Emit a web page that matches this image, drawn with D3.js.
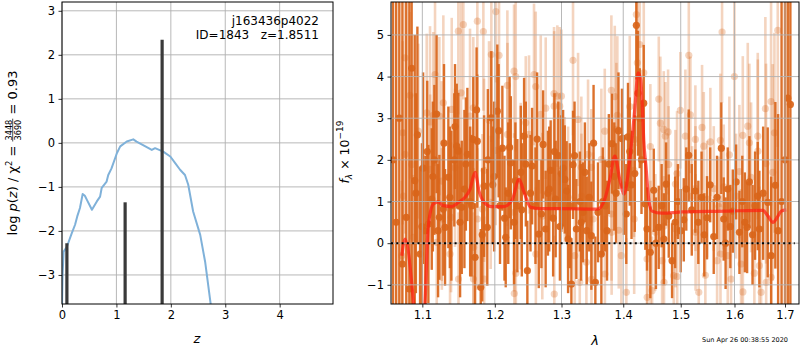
<!DOCTYPE html>
<html lang="en">
<head>
<meta charset="UTF-8">
<script src="https://cdnjs.cloudflare.com/ajax/libs/d3/7.8.5/d3.min.js"></script>
<style>
    body { margin: 0; background: #fff; }
    svg text { font-family: "DejaVu Sans", sans-serif; fill: #000; white-space: pre; }
</style>
</head>
<body>
<svg id="chart" width="800" height="350"></svg>
<script>
    // ---- p(z) panel
    var pzZ = [0.00, 0.01, 0.03, 0.09, 0.18, 0.24, 0.28, 0.33, 0.38, 0.42, 0.46, 0.55, 0.64, 0.70, 0.73, 0.82, 0.85, 0.91,
        1.01, 1.07, 1.19, 1.31, 1.37, 1.49, 1.65, 1.71, 1.86, 1.99, 2.08, 2.17, 2.26, 2.32, 2.41, 2.54, 2.63, 2.73, 2.78];
    var pzLog = [-3.7, -3.0, -2.47, -2.36, -2.05, -1.86, -1.67, -1.48, -1.16, -1.2, -1.3, -1.52, -1.33, -1.22, -1.02, -0.88, -0.73, -0.58,
        -0.23, -0.08, 0.03, 0.08, 0.03, -0.05, -0.16, -0.12, -0.2, -0.31, -0.46, -0.61, -0.73, -0.95, -1.56, -2.09, -2.70, -3.64, -4.2];
    var peakZ = [0.09, 1.16, 1.84];
    var peakLog = [-2.28, -1.35, 2.34];
    var zTicks = [0, 1, 2, 3, 4];
    var pzTicks = [-3, -2, -1, 0, 1, 2, 3];

    // ---- spectrum panel (flux in 1e-19)
    var darkWave = [1.062, 1.066, 1.070, 1.074, 1.079, 1.083, 1.086, 1.090, 1.0935, 1.097,
        1.101, 1.104, 1.108, 1.1125, 1.116, 1.119, 1.1227, 1.1281, 1.1304, 1.1349,
        1.139, 1.143, 1.1464, 1.1486, 1.1533, 1.157, 1.1611, 1.165, 1.1694, 1.1719,
        1.175, 1.1799, 1.1846, 1.1892, 1.1949, 1.199, 1.2036, 1.2075, 1.2109, 1.2158,
        1.2195, 1.2232, 1.228, 1.2329, 1.238, 1.2429, 1.2478, 1.2549, 1.26, 1.265,
        1.2716, 1.2755, 1.279, 1.2832, 1.287, 1.2909, 1.295, 1.2997, 1.3051, 1.308,
        1.3103, 1.3155, 1.3181, 1.3234, 1.329, 1.334, 1.34, 1.3474, 1.3539, 1.3582,
        1.3637, 1.37, 1.376, 1.3812, 1.388, 1.3979, 1.4051, 1.408, 1.414, 1.4195,
        1.4222, 1.428, 1.4348, 1.4376, 1.4405, 1.4462, 1.4522, 1.456, 1.4609, 1.466,
        1.47, 1.4739, 1.4786, 1.4845, 1.49, 1.495, 1.5, 1.5055, 1.51, 1.5145,
        1.52, 1.5265, 1.532, 1.538, 1.543, 1.5481, 1.554, 1.5606, 1.5668, 1.5749,
        1.5794, 1.583, 1.5871, 1.592, 1.5967, 1.6031, 1.6095, 1.615, 1.62, 1.6244,
        1.6289, 1.635, 1.64, 1.6453, 1.6485, 1.656, 1.6651, 1.672, 1.6804, 1.686,
        1.693, 1.7, 1.7057, 1.711];
    var darkFlux = [2.0, 0.5, 3.0, -0.5, 0.62, -1.1, 4.2, 1.5, 2.6, -0.26,
        1.8, 0.3, 0.46, 1.06, 2.0, 3.1, 0.62, 0.82, 0.38, 1.58,
        0.9, 2.0, 2.33, 2.21, 0.86, 1.3, 2.13, 1.0, 2.49, -0.34,
        2.45, -1.06, 1.37, 0.38, 3.01, 1.6, 3.17, 0.9, 2.28, 0.14,
        1.2, 1.93, 0.5, 0.9, 1.7, 2.57, -0.66, 1.85, 0.9, 0.22,
        2.37, 0.34, 1.2, 1.75, 0.6, 1.06, 2.1, 1.67, 1.53, 1.25,
        0.1, -0.98, 1.88, 0.34, 1.0, 0.74, 0.3, 0.18, -0.94, 0.74,
        -0.26, 0.9, 1.9, 2.39, 1.2, 2.51, 0.7, 2.55, 1.4, 1.67,
        5.23, 3.0, 3.36, 0.94, 0.34, -0.22, 1.27, 0.0, 0.38, 0.9,
        0.1, 1.42, 0.65, -0.42, 0.5, 1.0, 0.3, 0.56, 1.3, 2.11,
        0.8, 1.25, 0.5, 1.1, 0.2, 0.61, 1.4, 0.16, 1.1, 2.28,
        0.58, 0.0, 1.3, 0.4, 0.77, 1.47, 0.26, 1.0, 0.5, 0.38,
        1.47, 0.2, 0.9, 1.13, 0.34, 1.2, 0.98, -0.3, 1.39, 0.3,
        1.0, 2.0, 3.48, 3.33];
    var darkErr = [9, 9, 9, 9, 7, 8, 6, 3.5, 2.6, 2.1,
        2.3, 1.8, 1.9, 1.7, 1.8, 1.9, 1.5, 1.6, 1.4, 1.7,
        1.8, 1.6, 1.5, 1.4, 1.6, 1.9, 1.6, 1.8, 1.5, 1.3,
        1.6, 1.4, 1.7, 1.4, 1.6, 1.8, 1.6, 1.4, 1.5, 1.2,
        1.7, 1.6, 1.5, 1.6, 1.6, 1.4, 1.2, 1.4, 1.4, 1.3,
        1.3, 1.4, 1.5, 1.2, 1.4, 1.4, 1.3, 1.4, 1.3, 1.2,
        1.3, 1.1, 1.3, 1.2, 1.2, 1.2, 1.3, 1.3, 1.1, 1.2,
        1.2, 1.1, 1.2, 1.2, 1.2, 1.2, 1.2, 1.3, 1.3, 1.4,
        1.3, 1.2, 1.4, 1.1, 1.0, 1.1, 1.0, 1.1, 1.0, 1.0,
        1.1, 1.0, 1.0, 0.9, 1.1, 0.9, 1.0, 1.0, 1.0, 1.1,
        1.1, 1.0, 1.0, 1.1, 1.0, 1.0, 0.9, 0.9, 1.0, 1.1,
        1.0, 1.1, 1.0, 1.0, 1.0, 0.9, 1.0, 1.1, 1.2, 1.1,
        1.1, 1.2, 1.3, 1.3, 1.4, 1.6, 1.8, 1.9, 2.0, 2.8,
        5, 9, 9, 9];

    // second exposure, blue half only
    var darkWaveB = [1.0915, 1.0995, 1.1065, 1.1140, 1.1210, 1.1290, 1.1370, 1.1440, 1.1510, 1.1590,
        1.1670, 1.1740, 1.1820, 1.1900, 1.1970, 1.2055, 1.2140, 1.2215, 1.2300, 1.2395,
        1.2455, 1.2525, 1.2625, 1.2690, 1.2810, 1.2890, 1.2975, 1.3025, 1.3130, 1.3205,
        1.3310, 1.3370, 1.3440, 1.3510, 1.3660, 1.3730, 1.3850, 1.3920, 1.4010, 1.4110,
        1.4250, 1.4310];
    var darkFluxB = [1.2, 0.4, 2.2, 1.6, 0.3, 2.4, 1.1, 2.8, 0.5, 1.9,
        0.9, 3.2, 0.2, 2.0, 1.4, 2.7, 0.6, 2.3, 1.5, 0.8,
        1.9, 1.2, 2.5, 0.7, 1.3, 2.2, 0.4, 1.8, 0.9, 2.1,
        0.5, 1.7, 1.1, 2.4, 1.0, 0.3, 1.6, 2.7, 1.4, 2.2,
        3.6, 2.0];
    var darkErrB = [2.4, 2.0, 1.7, 1.8, 1.6, 1.9, 1.7, 1.5, 1.8, 1.6,
        1.7, 1.5, 1.6, 1.7, 1.4, 1.6, 1.5, 1.7, 1.4, 1.6,
        1.5, 1.4, 1.6, 1.3, 1.5, 1.4, 1.3, 1.4, 1.5, 1.3,
        1.4, 1.2, 1.3, 1.4, 1.3, 1.2, 1.3, 1.4, 1.2, 1.3,
        1.5, 1.3];

    var lightWave = [1.0731, 1.0744, 1.0752, 1.0774, 1.0776, 1.0839, 1.0861, 1.0882, 1.0947, 1.1058,
        1.1102, 1.1104, 1.1146, 1.1169, 1.1192, 1.1227, 1.1259, 1.1261, 1.1281, 1.1372,
        1.1386, 1.1395, 1.1440, 1.1486, 1.1488, 1.1523, 1.1555, 1.1648, 1.1694, 1.1696,
        1.1698, 1.1751, 1.1753, 1.1822, 1.1836, 1.1846, 1.1848, 1.1917, 1.1941, 1.1950,
        1.2013, 1.2015, 1.2061, 1.2182, 1.2184, 1.2280, 1.2282, 1.2284, 1.2305, 1.2307,
        1.2379, 1.2454, 1.2503, 1.2578, 1.2604, 1.2606, 1.2680, 1.2704, 1.2756, 1.2884,
        1.2886, 1.2888, 1.2935, 1.2973, 1.2998, 1.3051, 1.3103, 1.3181, 1.3208, 1.3261,
        1.3288, 1.3313, 1.3315, 1.3394, 1.3421, 1.3474, 1.3476, 1.3502, 1.3637, 1.3693,
        1.3695, 1.3802, 1.3804, 1.3806, 1.3858, 1.3885, 1.3901, 1.3925, 1.3968, 1.4052,
        1.4110, 1.4183, 1.4185, 1.4187, 1.4222, 1.4239, 1.4280, 1.4349, 1.4406, 1.4408,
        1.4463, 1.4465, 1.4493, 1.4550, 1.4610, 1.4638, 1.4668, 1.4698, 1.4700, 1.4702,
        1.4726, 1.4774, 1.4784, 1.4875, 1.4904, 1.4906, 1.4934, 1.4936, 1.4993, 1.5084,
        1.5146, 1.5175, 1.5206, 1.5266, 1.5268, 1.5270, 1.5328, 1.5389, 1.5421, 1.5450,
        1.5482, 1.5543, 1.5607, 1.5669, 1.5701, 1.5731, 1.5733, 1.5763, 1.5795, 1.5871,
        1.5902, 1.5934, 1.5998, 1.6030, 1.6094, 1.6127, 1.6160, 1.6162, 1.6257, 1.6288,
        1.6322, 1.6386, 1.6453, 1.6455, 1.6485, 1.6519, 1.6604, 1.6618, 1.6620, 1.6718,
        1.6720, 1.6752, 1.6785, 1.6853];
    var lightFlux = [-0.3, 2.65, 1.13, 4.45, 2.13, 3.55, 1.89, 0.14, 2.69, 3.13,
        2.91, 1.77, 3.07, 4.05, 0.02, 3.05, 1.49, 0.58, 3.37, -0.26,
        0.62, 3.21, 1.81, 5.09, -0.86, 3.61, 5.25, 3.05, 3.25, -0.86,
        -0.1, 5.33, 0.58, 0.82, 5.08, 1.75, -0.86, 2.95, 0.98, 4.53,
        2.23, 5.56, 4.51, 3.79, 2.61, 4.13, 0.74, -1.21, 4.0, -0.72,
        1.37, 2.89, 2.61, 4.05, 3.76, -0.26, 3.09, 0.65, 3.24, 3.59,
        3.29, -1.22, 3.53, 3.29, 3.53, 1.53, 1.1, 4.39, -0.3, 2.97,
        -0.94, 1.82, 1.13, -0.46, 2.13, 1.82, -0.87, 0.58, 2.01, 2.69,
        -0.74, 3.67, 0.70, 0.26, 3.52, 2.73, 3.07, 0.31, -0.3, -1.18,
        3.28, 1.75, 0.58, 2.49, 5.49, 4.33, 4.77, 4.09, -0.38, -1.30,
        2.32, -0.1, -1.14, 0.26, 3.46, 2.88, -0.42, 2.73, 0.41, -0.94,
        2.57, 2.67, 1.89, -0.78, 1.42, 0.34, 1.67, -0.8, 3.19, 2.57,
        4.51, 3.08, 1.13, 2.49, 1.31, 0.26, -1.18, 2.78, 2.33, -0.77,
        1.06, 2.43, 1.31, -0.42, 0.88, 2.47, -0.26, 5.07, 1.35, -0.3,
        2.12, -0.86, 4.0, 1.13, 1.72, -0.5, 2.59, -1.17, 2.81, 2.41,
        1.58, -0.72, 2.57, 2.21, -0.54, -1.18, 3.23, 1.91, -0.94, 3.4,
        -0.82, 1.7, 2.65, 5.11];
    var lightErr = [1.8, 2.2, 1.6, 2.4, 1.9, 2.0, 1.7, 1.5, 2.1, 1.9,
        2.3, 1.8, 2.0, 2.2, 1.6, 1.9, 2.4, 1.7, 2.1, 1.5,
        1.8, 2.2, 1.9, 2.0, 1.6, 2.3, 1.8, 2.1, 1.7, 1.6,
        1.9, 2.0, 1.7, 1.8, 1.9, 2.2, 1.5, 1.9, 1.6, 2.1,
        1.8, 1.7, 2.0, 1.8, 2.2, 1.6, 1.9, 1.5, 1.8, 1.7,
        2.0, 1.6, 1.9, 1.7, 1.8, 1.6, 1.9, 2.0, 1.7, 1.6,
        1.8, 1.4, 1.7, 1.9, 1.6, 1.5, 1.7, 1.8, 1.4, 1.6,
        1.3, 1.7, 1.5, 1.6, 1.8, 1.4, 1.5, 1.6, 1.7, 1.5,
        1.4, 1.8, 1.6, 1.5, 1.7, 1.6, 1.9, 1.4, 1.5, 1.3,
        1.7, 1.6, 1.8, 1.5, 1.9, 2.0, 1.8, 1.7, 1.4, 1.3,
        1.5, 1.6, 1.3, 1.4, 1.5, 1.6, 1.3, 1.4, 1.2, 1.5,
        1.3, 1.5, 1.4, 1.2, 1.3, 1.4, 1.5, 1.2, 1.4, 1.6,
        1.5, 1.4, 1.2, 1.3, 1.5, 1.4, 1.2, 1.5, 1.3, 1.3,
        1.4, 1.3, 1.5, 1.4, 1.2, 1.6, 1.4, 1.7, 1.5, 1.6,
        1.4, 1.7, 1.8, 1.5, 1.6, 1.8, 1.9, 1.7, 2.0, 1.9,
        1.8, 2.1, 2.0, 2.2, 1.9, 2.3, 2.2, 2.4, 2.1, 2.5,
        2.3, 2.6, 2.4, 2.8];

    var modelWave = [1.0732, 1.0774, 1.0882, 1.0950, 1.1036, 1.1079, 1.1146, 1.1213, 1.1281, 1.1395,
        1.1486, 1.1579, 1.1649, 1.1719, 1.1775, 1.1846, 1.1941, 1.2134, 1.2255, 1.2354,
        1.2429, 1.2528, 1.2679, 1.2962, 1.3582, 1.3693, 1.3776, 1.3859, 1.3942, 1.4013,
        1.4110, 1.4195, 1.4251, 1.4297, 1.4327, 1.4348, 1.4387, 1.4434, 1.4490, 1.4666,
        1.5025, 1.5858, 1.6554, 1.6656, 1.6756, 1.6857, 1.6923, 1.7025];
    var modelFlux = [-0.30, 0.10, -1.38, -3.00, -1.40, 0.41, 0.94, 0.99, 0.90, 0.88,
        0.98, 1.10, 1.30, 1.70, 1.25, 0.98, 0.88, 0.88, 1.05, 1.53,
        1.22, 0.86, 0.83, 0.83, 0.82, 1.06, 1.53, 2.09, 1.53, 1.18,
        2.01, 3.21, 4.09, 3.93, 3.20, 2.49, 1.85, 1.06, 0.77, 0.72,
        0.75, 0.77, 0.79, 0.65, 0.50, 0.65, 0.77, 0.80];
    var waveTicks = [1.1, 1.2, 1.3, 1.4, 1.5, 1.6, 1.7];
    var fluxTicks = [-1, 0, 1, 2, 3, 4, 5];

    function rows(w, f, e) {
        return w.map(function (v, i) { return {w: v, f: f[i], e: e[i]}; });
    }
    var dark = rows(darkWave, darkFlux, darkErr).concat(rows(darkWaveB, darkFluxB, darkErrB));
    var light = rows(lightWave, lightFlux, lightErr);
    var model = modelWave.map(function (w, i) { return {w: w, f: modelFlux[i]}; });
    var pz = pzZ.map(function (z, i) { return {z: z, p: pzLog[i]}; });

    var svg = d3.select("#chart");
    var tickSize = 11.5;
    var minus = function (d) { return d3.format("")(d).replace("-", "\u2212"); };

    function axes(g, x, y, xt, yt, box) {
        var grid = g.append("g").attr("class", "grid");
        grid.selectAll(".gx").data(xt).enter().append("line")
            .attr("x1", function (d) { return x(d); }).attr("x2", function (d) { return x(d); })
            .attr("y1", box.y0).attr("y2", box.y1);
        grid.selectAll(".gy").data(yt).enter().append("line")
            .attr("y1", function (d) { return y(d); }).attr("y2", function (d) { return y(d); })
            .attr("x1", box.x0).attr("x2", box.x1);
        grid.selectAll("line").attr("stroke", "#b0b0b0").attr("stroke-width", 0.9);

        var xa = g.append("g").attr("transform", "translate(0," + box.y1 + ")")
            .call(d3.axisBottom(x).tickValues(xt).tickSize(3.5).tickPadding(3.5).tickFormat(minus));
        var ya = g.append("g").attr("transform", "translate(" + box.x0 + ",0)")
            .call(d3.axisLeft(y).tickValues(yt).tickSize(3.5).tickPadding(3.5).tickFormat(minus));
        [xa, ya].forEach(function (a) {
            a.select(".domain").remove();
            a.selectAll("line").attr("stroke", "#000").attr("stroke-width", 0.8);
            a.selectAll("text").attr("font-size", tickSize);
        });
        g.append("rect").attr("class", "frame").attr("x", box.x0).attr("y", box.y0)
            .attr("width", box.x1 - box.x0).attr("height", box.y1 - box.y0)
            .attr("fill", "none").attr("stroke", "#000").attr("stroke-width", 1);
    }

    // write a run of text pieces along the baseline, returns total length
    function runText(g, parts, size) {
        var x = 0;
        parts.forEach(function (p) {
            if (p.num) {
                var fs = size * 0.63;
                var n = g.append("text").attr("x", x + 1).attr("y", -size * 0.42).attr("font-size", fs).text(p.num);
                var d = g.append("text").attr("x", x + 1).attr("y", size * 0.29).attr("font-size", fs).text(p.den);
                var w = Math.max(n.node().getComputedTextLength(), d.node().getComputedTextLength()) + 2;
                g.append("line").attr("x1", x).attr("x2", x + w)
                    .attr("y1", -size * 0.33).attr("y2", -size * 0.33)
                    .attr("stroke", "#000").attr("stroke-width", 0.7);
                x += w;
            } else {
                var t = g.append("text").attr("x", x).attr("y", p.dy || 0)
                    .attr("font-size", p.size || size)
                    .attr("font-style", p.it ? "italic" : null)
                    .text(p.t);
                x += t.node().getComputedTextLength();
            }
        });
        return x;
    }

    // ---- left panel
    var L = {x0: 62, x1: 333, y0: 2, y1: 304};
    var xz = d3.scaleLinear().domain([0, 4.98]).range([L.x0, L.x1]);
    var yz = d3.scaleLinear().domain([-3.66, 3.2]).range([L.y1, L.y0]);
    var gl = svg.append("g");
    svg.append("clipPath").attr("id", "clipL").append("rect")
        .attr("x", L.x0).attr("y", L.y0).attr("width", L.x1 - L.x0).attr("height", L.y1 - L.y0);
    axes(gl, xz, yz, zTicks, pzTicks, L);
    var dl = gl.append("g").attr("clip-path", "url(#clipL)");
    dl.append("path").datum(pz)
        .attr("d", d3.line().x(function (d) { return xz(d.z); }).y(function (d) { return yz(d.p); }))
        .attr("fill", "none").attr("stroke", "#7fb1d9").attr("stroke-width", 2).attr("stroke-linejoin", "round");
    dl.selectAll(".peak").data(peakZ).enter().append("line")
        .attr("x1", function (d) { return xz(d); }).attr("x2", function (d) { return xz(d); })
        .attr("y1", L.y1).attr("y2", function (d, i) { return yz(peakLog[i]); })
        .attr("stroke", "#3a3a3a").attr("stroke-width", 3.2);
    gl.select(".frame").raise();

    gl.append("text").attr("x", 319).attr("y", 24.5).attr("text-anchor", "end").attr("font-size", 12)
        .text("j163436p4022");
    gl.append("text").attr("x", 319).attr("y", 39).attr("text-anchor", "end").attr("font-size", 12)
        .text("ID=1843   z=1.8511");
    gl.append("text").attr("x", 197).attr("y", 343).attr("text-anchor", "middle")
        .attr("font-size", 13).attr("font-style", "italic").text("z");

    var yl = svg.append("g");
    var ylen = runText(yl, [
        {t: "log "}, {t: "p", it: true}, {t: "("}, {t: "z", it: true}, {t: ") / \u03c7"},
        {t: "2", size: 8.5, dy: -5.5}, {t: " = "}, {num: "3448", den: "3690"}, {t: " = 0.93"}
    ], 13);
    yl.attr("transform", "translate(17," + (153 + ylen / 2) + ") rotate(-90)");

    // ---- right panel
    var R = {x0: 391, x1: 799, y0: 2, y1: 304};
    var xw = d3.scaleLog().domain([1.0594, 1.7288]).range([R.x0, R.x1]);
    var yf = d3.scaleLinear().domain([-1.46, 5.79]).range([R.y1, R.y0]);
    var gr = svg.append("g");
    svg.append("clipPath").attr("id", "clipR").append("rect")
        .attr("x", R.x0).attr("y", R.y0).attr("width", R.x1 - R.x0).attr("height", R.y1 - R.y0);
    var dr = gr.append("g").attr("clip-path", "url(#clipR)");
    axes(gr, xw, yf, waveTicks, fluxTicks, R);

    var orange = "#d9651a";
    function errorbars(g, data, alpha, width) {
        var s = g.append("g");
        s.selectAll("line").data(data).enter().append("line")
            .attr("x1", function (d) { return xw(d.w); }).attr("x2", function (d) { return xw(d.w); })
            .attr("y1", function (d) { return yf(d.f - d.e); }).attr("y2", function (d) { return yf(d.f + d.e); })
            .attr("stroke", orange).attr("stroke-opacity", alpha).attr("stroke-width", width);
        s.selectAll("circle").data(data).enter().append("circle")
            .attr("cx", function (d) { return xw(d.w); }).attr("cy", function (d) { return yf(d.f); })
            .attr("r", 3.6).attr("fill", orange).attr("fill-opacity", alpha);
    }
    errorbars(dr, light, 0.28, 2.6);
    errorbars(dr, dark, 0.92, 2.4);
    dr.append("path").datum(model)
        .attr("d", d3.line().curve(d3.curveMonotoneX).x(function (d) { return xw(d.w); }).y(function (d) { return yf(d.f); }))
        .attr("fill", "none").attr("stroke", "#ff1f10").attr("stroke-opacity", 0.72)
        .attr("stroke-width", 3.2).attr("stroke-linejoin", "round");
    gr.select(".grid").raise();
    gr.append("line").attr("x1", R.x0).attr("x2", xw(1.72)).attr("y1", yf(0)).attr("y2", yf(0))
        .attr("stroke", "#000").attr("stroke-width", 2).attr("stroke-dasharray", "2,3.3");
    gr.select(".frame").raise();

    gr.append("text").attr("x", 595).attr("y", 345).attr("text-anchor", "middle")
        .attr("font-size", 13).attr("font-style", "italic").text("\u03bb");

    var yr = svg.append("g");
    var yrlen = runText(yr, [
        {t: "f", it: true}, {t: "\u03bb", it: true, size: 9, dy: 3}, {t: " \u00d7 10"}, {t: "\u221219", size: 9, dy: -5.5}
    ], 12.5);
    yr.attr("transform", "translate(348.5," + (152 + yrlen / 2) + ") rotate(-90)");

    svg.append("text").attr("x", 788).attr("y", 342).attr("text-anchor", "end")
        .attr("font-size", 6.5).text("Sun Apr 26 00:38:55 2020");
</script>
</body>
</html>
